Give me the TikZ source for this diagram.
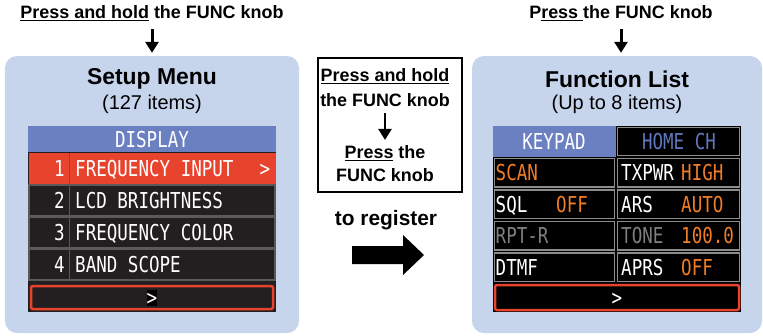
\documentclass[tikz,border=0pt]{standalone}
\usepackage{fontspec}
\setmainfont{Liberation Sans}
\newfontfamily\lcdfont[FakeStretch=0.8]{DejaVu Sans Mono}
\usetikzlibrary{arrows.meta}
\usetikzlibrary{positioning}

\definecolor{panelblue}{HTML}{C6D4EC}
\definecolor{hdrblue}{HTML}{6B80C0}
\definecolor{homeblue}{HTML}{5F78BC}
\definecolor{menured}{HTML}{E8432D}
\definecolor{rowdark}{HTML}{231F20}
\definecolor{rowedge}{HTML}{5A5A5A}
\definecolor{celledge}{HTML}{8C8C8C}
\definecolor{lcdorange}{HTML}{F07D28}
\definecolor{lcdgray}{HTML}{7F7F7F}

\tikzset{
  panel/.style={fill=panelblue, rounded corners=12bp, inner sep=0pt, minimum height=277bp},
  lcd/.style={font=\lcdfont\fontsize{22}{22}\selectfont, inner sep=0pt, text height=16bp, text depth=0pt},
  knobarrow/.style={-{Triangle[width=13bp,length=11bp]}, line width=3bp},
  cellbox/.style={draw=celledge, line width=1.5bp, fill=black}
}

\begin{document}
\begin{tikzpicture}[x=1bp,y=-1bp]
      \useasboundingbox (0,0) rectangle (763,335);

      % panels
      \node[panel, minimum width=294bp] (setup) at (152,194.5) {};
      \node[panel, minimum width=290bp] (funclist) at (617,194.5) {};

      % top instructions
      \node[font=\bfseries\fontsize{18}{20}\selectfont] (holdtop) at (152,13) {\underline{Press and hold} the FUNC knob};
      \node[font=\bfseries\fontsize{18}{20}\selectfont] (presstop) at (621,13) {P\underline{ress }the FUNC knob};
      \draw[knobarrow, shorten <=5bp, shorten >=3bp] (holdtop.south -| setup.north) -- (setup.north);
      \draw[knobarrow, shorten <=5bp, shorten >=3bp] (presstop.south) -- (presstop.south |- funclist.north);

      % titles
      \node[font=\bfseries\fontsize{23}{25}\selectfont] (setuptitle) at (152,79) {Setup Menu};
      \node[font=\fontsize{20}{22}\selectfont] (setupcount) at (152,104) {(127 items)};
      \node[font=\bfseries\fontsize{23}{25}\selectfont] (functitle) at (617,79) {Function List};
      \node[font=\fontsize{20}{22}\selectfont] (funccount) at (617,104) {(Up to 8 items)};

      % left screen
      \fill[rowdark] (28,126) rectangle (276,312);
      \fill[hdrblue] (28,126) rectangle (276,152);
      \node[lcd, white] (display) at (152,139) {DISPLAY};
      \fill[menured] (28.5,152.5) rectangle (275.5,184.5);
      \foreach \r in {2,3,4}{
        \pgfmathsetmacro\yt{152.5+32*(\r-1)}
        \draw[rowedge, line width=1.5bp] (29,\yt+0.5) rectangle (275,\yt+31.5);
      }
      \draw[rowedge, line width=1bp] (69.5,152.5) -- (69.5,280.5);
      \foreach \r/\txt in {1/FREQUENCY INPUT,2/LCD BRIGHTNESS,3/FREQUENCY COLOR,4/BAND SCOPE}{
        \pgfmathsetmacro\yc{152.5+32*(\r-1)+16}
        \node[lcd, white, anchor=east] (num\r) at (65,\yc) {\r};
        \node[lcd, white, anchor=west] (item\r) at (75,\yc) {\txt};
      }
      \node[lcd, white] (more1) at (265,168.5) {>};
      \draw[menured, line width=2.5bp, rounded corners=2bp] (31,286) rectangle (273,309);
      \node[lcd, white, fill=black] (next1) at (152,297.5) {>};

      % right screen
      \fill[black] (493,126) rectangle (741,312);
      \fill[hdrblue] (493,126) rectangle (616,157);
      \draw[cellbox] (617.5,127.5) rectangle (739.5,155.5);
      \node[lcd, white] (keypad) at (554,141.5) {KEYPAD};
      \node[lcd, homeblue] (homech) at (679,141.5) {HOME CH};
      \foreach \r/\lt/\lc/\rt/\rc/\rv in {1/SCAN/lcdorange/TXPWR/white/HIGH,2/SQL/white/ARS/white/AUTO,3/RPT-R/lcdgray/TONE/lcdgray/100.0,4/DTMF/white/APRS/white/OFF}{
        \pgfmathsetmacro\yt{157+31.5*(\r-1)}
        \draw[cellbox] (494.5,\yt+1.5) rectangle (614.5,\yt+30);
        \draw[cellbox] (617.5,\yt+1.5) rectangle (739.5,\yt+30);
        \node[lcd, \lc, anchor=west] (fl\r) at (495.5,\yt+15.75) {\lt};
        \node[lcd, \rc, anchor=west] (fr\r) at (621,\yt+15.75) {\rt};
        \node[lcd, lcdorange, anchor=west] (fv\r) at (681,\yt+15.75) {\rv};
      }
      \node[lcd, lcdorange, anchor=west] (sqloff) at (556,204.25) {OFF};
      \draw[menured, line width=2.5bp, rounded corners=2bp] (495,285) rectangle (739,310);
      \node[lcd, white] (next2) at (617,297.5) {>};

      % register box
      \draw[line width=1.2bp] (318,58) rectangle (462,192);
      \node[font=\bfseries\fontsize{18}{25}\selectfont, align=center] (holdmid) at (385,87.5) {\underline{Press and hold}\\the FUNC knob};
      \node[font=\bfseries\fontsize{18}{23}\selectfont, align=center] (pressmid) at (385,163.5) {\underline{Press} the\\FUNC knob};
      \draw[knobarrow, line width=2.5bp, shorten <=3bp, shorten >=2bp] (holdmid) -- (pressmid);
      \node[font=\bfseries\fontsize{21}{23}\selectfont] (register) at (386,220) {to register};
      \fill (352,246) -- (403,246) -- (403,235) -- (424,255) -- (403,275) -- (403,264) -- (352,264) -- cycle;
\end{tikzpicture}
\end{document}
